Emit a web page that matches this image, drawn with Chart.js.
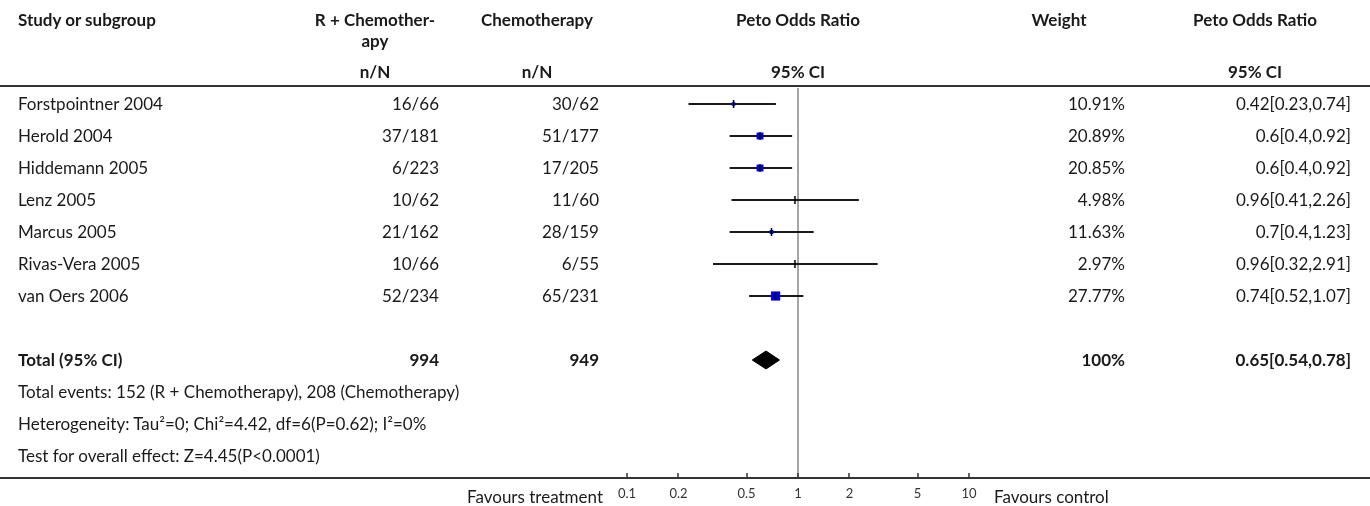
<!DOCTYPE html>
<html>
<head>
<meta charset="utf-8">
<script src="https://cdn.jsdelivr.net/npm/chart.js@4.4.0/dist/chart.umd.min.js"></script>
<style>
  body { margin: 0; background: #fff; }
  #wrap { position: relative; width: 1370px; height: 506px; overflow: hidden;
          font-family: Lato, "Noto Sans", sans-serif; font-size: 17px; color: #1a1a1a; }
  #plot { position: absolute; left: 0; top: 0; }
  .t { position: absolute; height: 32px; line-height: 32px; white-space: nowrap; }
  .b { font-weight: bold; }
  .rule { position: absolute; left: 0; width: 1370px; height: 2px; background: #333; }
</style>
</head>
<body>
<div id="wrap">
  <canvas id="plot" width="1370" height="506"></canvas>
  <div class="rule" style="top:85px"></div>
  <div class="rule" style="top:477px"></div>
</div>
<script>
// study data
const studies = ["Forstpointner 2004", "Herold 2004", "Hiddemann 2005", "Lenz 2005",
                 "Marcus 2005", "Rivas-Vera 2005", "van Oers 2006"];
const expEvents = [16, 37, 6, 10, 21, 10, 52];
const expTotal = [66, 181, 223, 62, 162, 66, 234];
const ctrlEvents = [30, 51, 17, 11, 28, 6, 65];
const ctrlTotal = [62, 177, 205, 60, 159, 55, 231];
const weights = [10.91, 20.89, 20.85, 4.98, 11.63, 2.97, 27.77];
const oddsRatio = [0.42, 0.6, 0.6, 0.96, 0.7, 0.96, 0.74];
const ciLow = [0.23, 0.4, 0.4, 0.41, 0.4, 0.32, 0.52];
const ciHigh = [0.74, 0.92, 0.92, 2.26, 1.23, 2.91, 1.07];

// pooled result
const totalOR = 0.65;
const totalLow = 0.54;
const totalHigh = 0.78;

// axis ticks
const tickVals = [0.1, 0.2, 0.5, 1, 2, 5, 10];

const footnotes = [
  "Total events: 152 (R + Chemotherapy), 208 (Chemotherapy)",
  "Heterogeneity: Tau\u00b2=0; Chi\u00b2=4.42, df=6(P=0.62); I\u00b2=0%",
  "Test for overall effect: Z=4.45(P<0.0001)"
];

// table layout
const col = { study: 18, exp: 439, expHead: 375, ctrl: 599, ctrlHead: 537,
              plotHead: 798, weight: 1125, weightHead: 1059, ci: 1351, ciHead: 1255 };
const rowTop = (i) => 88 + 32 * i;
const totalRow = 8;

const wrap = document.getElementById("wrap");

function put(text, x, top, align, bold) {
  const d = document.createElement("div");
  d.className = "t" + (bold ? " b" : "");
  d.textContent = text;
  d.style.top = top + "px";
  if (align === "left") {
    d.style.left = x + "px";
  } else if (align === "right") {
    d.style.right = (1370 - x) + "px";
  } else {
    d.style.left = (x - 150) + "px";
    d.style.width = "300px";
    d.style.textAlign = "center";
  }
  wrap.appendChild(d);
}

// header
put("Study or subgroup", col.study, 4, "left", true);
put("R + Chemother-", col.expHead, 4, "center", true);
put("apy", col.expHead, 25, "center", true);
put("n/N", col.expHead, 56, "center", true);
put("Chemotherapy", col.ctrlHead, 4, "center", true);
put("n/N", col.ctrlHead, 56, "center", true);
put("Peto Odds Ratio", col.plotHead, 4, "center", true);
put("95% CI", col.plotHead, 56, "center", true);
put("Weight", col.weightHead, 4, "center", true);
put("Peto Odds Ratio", col.ciHead, 4, "center", true);
put("95% CI", col.ciHead, 56, "center", true);

// study rows
studies.forEach((name, i) => {
  const top = rowTop(i);
  put(name, col.study, top, "left");
  put(expEvents[i] + "/" + expTotal[i], col.exp, top, "right");
  put(ctrlEvents[i] + "/" + ctrlTotal[i], col.ctrl, top, "right");
  put(weights[i].toFixed(2) + "%", col.weight, top, "right");
  put(oddsRatio[i] + "[" + ciLow[i] + "," + ciHigh[i] + "]", col.ci, top, "right");
});

// total row
const sumExp = expTotal.reduce((a, b) => a + b, 0);
const sumCtrl = ctrlTotal.reduce((a, b) => a + b, 0);
put("Total (95% CI)", col.study, rowTop(totalRow), "left", true);
put(String(sumExp), col.exp, rowTop(totalRow), "right", true);
put(String(sumCtrl), col.ctrl, rowTop(totalRow), "right", true);
put("100%", col.weight, rowTop(totalRow), "right", true);
put(totalOR + "[" + totalLow + "," + totalHigh + "]", col.ci, rowTop(totalRow), "right", true);

footnotes.forEach((txt, k) => put(txt, col.study, rowTop(totalRow + 1 + k), "left"));

put("Favours treatment", 603, 481, "right");
put("Favours control", 994, 481, "left");

// chart
const points = oddsRatio.map((v, i) => ({ x: v, y: i }));

new Chart(document.getElementById("plot"), {
  type: "scatter",
  data: {
    datasets: [
      {
        // black marks through the estimates
        data: points,
        pointStyle: "line",
        pointRotation: 90,
        pointRadius: 4,
        borderColor: "#000",
        pointBorderWidth: 1.5
      },
      {
        // weight squares
        data: points,
        pointStyle: "rect",
        pointRadius: (ctx) => Math.max(weights[ctx.dataIndex] * 0.33, 1.5) / Math.SQRT2,
        backgroundColor: "#0000ee",
        borderWidth: 0,
        pointBorderWidth: 0
      },
      {
        // confidence intervals
        type: "bar",
        indexAxis: "y",
        data: ciLow.map((lo, i) => ({ y: i, x: [lo, ciHigh[i]] })),
        backgroundColor: "#1a1a1a",
        barThickness: 1.5
      },
      {
        // diamond, top half
        type: "line",
        showLine: true,
        data: [
          { x: totalLow, y: totalRow },
          { x: totalOR, y: totalRow - 0.28 },
          { x: totalHigh, y: totalRow }
        ],
        fill: "+1",
        backgroundColor: "#000",
        borderColor: "#000",
        borderWidth: 1,
        pointRadius: 0
      },
      {
        // diamond, bottom half
        type: "line",
        showLine: true,
        data: [
          { x: totalLow, y: totalRow },
          { x: totalOR, y: totalRow + 0.28 },
          { x: totalHigh, y: totalRow }
        ],
        fill: false,
        borderColor: "#000",
        borderWidth: 1,
        pointRadius: 0
      }
    ]
  },
  options: {
    responsive: false,
    devicePixelRatio: 1,
    animation: false,
    events: [],
    layout: { padding: { left: 617, right: 390, top: 88, bottom: 0 } },
    plugins: { legend: { display: false }, tooltip: { enabled: false } },
    scales: {
      x: {
        type: "logarithmic",
        position: "bottom",
        bounds: "data",
        offset: false,
        beginAtZero: false,
        min: 0.0874,
        max: 11.6,
        afterBuildTicks: (axis) => {
          axis.ticks = tickVals.map((v) => ({ value: v }));
        },
        afterFit: (axis) => {
          axis.height = 28;
        },
        ticks: {
          autoSkip: false,
          maxRotation: 0,
          padding: 13,
          color: "#333",
          font: { family: "Lato", size: 13 },
          callback: (v) => String(v)
        },
        grid: {
          offset: false,
          color: (ctx) => (ctx.tick && ctx.tick.value === 1 ? "#a6a6a6" : "rgba(0,0,0,0)"),
          lineWidth: 2,
          tickColor: "#333",
          tickWidth: 1.5,
          tickLength: -5
        },
        border: { display: true, color: "#333", width: 2 }
      },
      y: {
        type: "linear",
        reverse: true,
        offset: false,
        grid: { offset: false },
        min: -0.5,
        max: 11.6875,
        display: false
      }
    }
  }
});
</script>
</body>
</html>
